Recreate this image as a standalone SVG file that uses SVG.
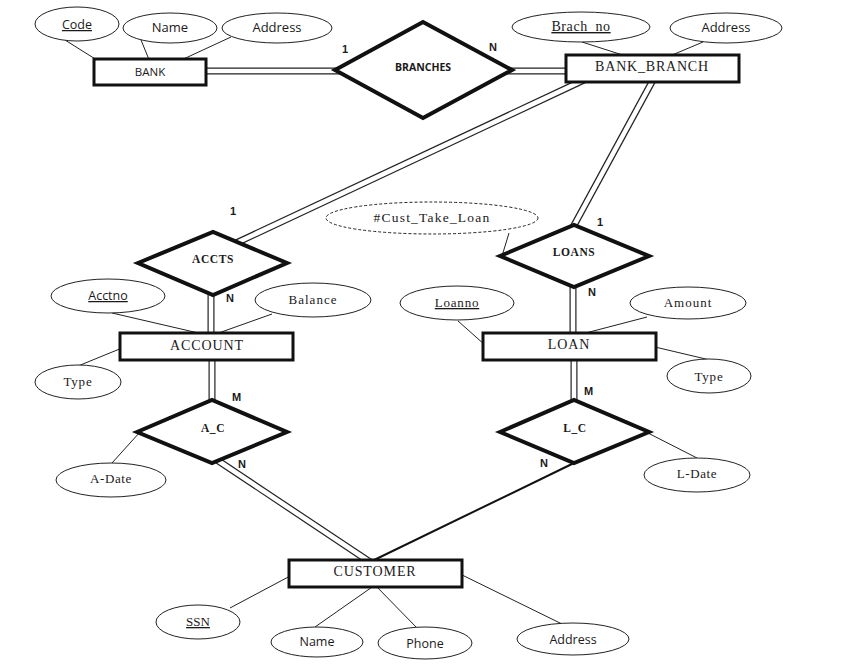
<svg xmlns="http://www.w3.org/2000/svg" width="859" height="668" viewBox="0 0 859 668">
<style>
.ent{fill:#fff;stroke:#111;stroke-width:3}
.rel{fill:#fff;stroke:#111;stroke-width:4;stroke-linejoin:miter}
.att{fill:#fff;stroke:#222;stroke-width:1}
.der{fill:#fff;stroke:#222;stroke-width:1;stroke-dasharray:3,2}
.ln{stroke:#222;stroke-width:1;fill:none}
.d1{stroke:#222;stroke-width:7;fill:none}
.d2{stroke:#fff;stroke-width:4.6;fill:none}
.sg{stroke:#111;stroke-width:2;fill:none}
.sans{font-family:"Open Sans","Liberation Sans",Arial,sans-serif;fill:#1a1a1a;text-anchor:middle}
.serif{font-family:"Liberation Serif","Times New Roman",serif;fill:#1a1a1a;text-anchor:middle}
.card{font-family:"Liberation Sans",Arial,sans-serif;font-weight:bold;font-size:11px;fill:#1a1a1a}
.u{text-decoration:underline}
</style>
<g id="connectors">
<line class="ln" x1="65" y1="40" x2="100" y2="62"/>
<line class="ln" x1="141" y1="40" x2="150" y2="62"/>
<line class="ln" x1="231" y1="37" x2="177" y2="62"/>
<line class="ln" x1="582" y1="42" x2="632" y2="58"/>
<line class="ln" x1="703" y1="42" x2="665" y2="58"/>
<line class="ln" x1="112" y1="313" x2="207" y2="335"/>
<line class="ln" x1="272" y1="314" x2="213" y2="335"/>
<line class="ln" x1="78" y1="366" x2="122" y2="348"/>
<line class="ln" x1="458" y1="321" x2="485" y2="345"/>
<line class="ln" x1="647" y1="317" x2="578" y2="335"/>
<line class="ln" x1="655" y1="347" x2="710" y2="360"/>
<line class="ln" x1="509" y1="233" x2="502" y2="256"/>
<line class="ln" x1="112" y1="463" x2="140" y2="432"/>
<line class="ln" x1="646" y1="432" x2="697" y2="458"/>
<line class="ln" x1="230" y1="608" x2="292" y2="575"/>
<line class="ln" x1="315" y1="627" x2="375" y2="585"/>
<line class="ln" x1="417" y1="628" x2="375" y2="585"/>
<line class="ln" x1="458" y1="573" x2="562" y2="624"/>
<g id="double-lines">
<line class="d1" x1="200" y1="71" x2="345" y2="71"/>
<line class="d1" x1="500" y1="71" x2="570" y2="71"/>
<line class="d1" x1="584" y1="80" x2="234" y2="244"/>
<line class="d1" x1="653" y1="80" x2="572" y2="229"/>
<line class="d1" x1="211" y1="290" x2="211" y2="338"/>
<line class="d1" x1="212" y1="358" x2="212" y2="405"/>
<line class="d1" x1="573" y1="282" x2="573" y2="338"/>
<line class="d1" x1="574" y1="358" x2="574" y2="405"/>
<line class="d1" x1="214" y1="458" x2="370" y2="562"/>
<line class="d2" x1="200" y1="71" x2="345" y2="71"/>
<line class="d2" x1="500" y1="71" x2="570" y2="71"/>
<line class="d2" x1="584" y1="80" x2="234" y2="244"/>
<line class="d2" x1="653" y1="80" x2="572" y2="229"/>
<line class="d2" x1="211" y1="290" x2="211" y2="338"/>
<line class="d2" x1="212" y1="358" x2="212" y2="405"/>
<line class="d2" x1="573" y1="282" x2="573" y2="338"/>
<line class="d2" x1="574" y1="358" x2="574" y2="405"/>
<line class="d2" x1="214" y1="458" x2="370" y2="562"/>
</g>
<line class="sg" x1="574" y1="463" x2="370" y2="562"/>
</g>
<g id="BANK"><rect class="ent" x="94" y="59" width="112" height="26"/><text class="sans" x="150" y="76" font-size="11.5">BANK</text></g>
<g id="BANK-Code"><ellipse class="att" cx="77" cy="24" rx="42" ry="17"/><text class="sans u" x="77" y="29" font-size="12.5">Code</text></g>
<g id="BANK-Name"><ellipse class="att" cx="170" cy="28" rx="47" ry="15"/><text class="sans" x="170" y="32" font-size="13">Name</text></g>
<g id="BANK-Address"><ellipse class="att" cx="277" cy="28" rx="55" ry="15"/><text class="sans" x="277" y="32" font-size="13">Address</text></g>
<g id="BRANCHES"><polygon class="rel" points="335,70 423,22 512,70 423,118"/><text class="sans" x="423" y="71" font-size="10.5" font-weight="bold">BRANCHES</text></g>
<g id="BANK_BRANCH"><rect class="ent" x="566" y="55" width="173" height="27"/><text class="serif" x="652" y="71" font-size="14" letter-spacing="0.8">BANK_BRANCH</text></g>
<g id="BB-Brach_no"><ellipse class="att" cx="581" cy="27" rx="69" ry="15"/><text class="serif u" x="581" y="31" font-size="14" letter-spacing="0.6">Brach_no</text></g>
<g id="BB-Address"><ellipse class="att" cx="726" cy="28" rx="56" ry="15"/><text class="sans" x="726" y="32" font-size="13">Address</text></g>
<g id="ACCTS"><polygon class="rel" points="138,263 213,232 287,263 213,295"/><text class="serif" x="213" y="263" font-size="11.5" font-weight="bold" letter-spacing="0.6">ACCTS</text></g>
<g id="ACCOUNT"><rect class="ent" x="120" y="333" width="173" height="27"/><text class="serif" x="207" y="350" font-size="14" letter-spacing="0.9">ACCOUNT</text></g>
<g id="ACCOUNT-Acctno"><ellipse class="att" cx="108" cy="296" rx="57" ry="17"/><text class="sans u" x="108" y="300" font-size="12.5">Acctno</text></g>
<g id="ACCOUNT-Balance"><ellipse class="att" cx="313" cy="300" rx="58" ry="17"/><text class="serif" x="313" y="304" font-size="13" letter-spacing="1">Balance</text></g>
<g id="ACCOUNT-Type"><ellipse class="att" cx="78" cy="382" rx="43" ry="17"/><text class="serif" x="78" y="386" font-size="13" letter-spacing="0.8">Type</text></g>
<g id="Cust_Take_Loan"><ellipse class="der" cx="432" cy="218" rx="106" ry="16"/><text class="serif" x="432" y="222" font-size="13.5" letter-spacing="1.2">#Cust_Take_Loan</text></g>
<g id="LOANS"><polygon class="rel" points="500,256 574,225 649,256 574,287"/><text class="serif" x="574" y="256" font-size="11.5" font-weight="bold" letter-spacing="0.6">LOANS</text></g>
<g id="LOAN"><rect class="ent" x="483" y="333" width="173" height="27"/><text class="serif" x="569" y="349" font-size="14" letter-spacing="0.9">LOAN</text></g>
<g id="LOAN-Loanno"><ellipse class="att" cx="457" cy="303" rx="57" ry="17"/><text class="serif u" x="457" y="307" font-size="13" letter-spacing="0.8">Loanno</text></g>
<g id="LOAN-Amount"><ellipse class="att" cx="688" cy="303" rx="58" ry="16"/><text class="serif" x="688" y="307" font-size="13" letter-spacing="1">Amount</text></g>
<g id="LOAN-Type"><ellipse class="att" cx="709" cy="376" rx="42" ry="17"/><text class="serif" x="709" y="381" font-size="13" letter-spacing="0.8">Type</text></g>
<g id="A_C"><polygon class="rel" points="137,432 212,400 287,432 212,463"/><text class="serif" x="213" y="432" font-size="11.5" font-weight="bold" letter-spacing="0.6">A_C</text></g>
<g id="A_C-A-Date"><ellipse class="att" cx="111" cy="480" rx="55" ry="17"/><text class="serif" x="111" y="483" font-size="13" letter-spacing="0.6">A-Date</text></g>
<g id="L_C"><polygon class="rel" points="500,432 574,400 649,432 574,463"/><text class="serif" x="575" y="432" font-size="11.5" font-weight="bold" letter-spacing="0.6">L_C</text></g>
<g id="L_C-L-Date"><ellipse class="att" cx="697" cy="475" rx="53" ry="17"/><text class="serif" x="697" y="478" font-size="13" letter-spacing="0.6">L-Date</text></g>
<g id="CUSTOMER"><rect class="ent" x="289" y="560" width="173" height="27"/><text class="serif" x="375" y="576" font-size="14" letter-spacing="0.9">CUSTOMER</text></g>
<g id="CUSTOMER-SSN"><ellipse class="att" cx="198" cy="622" rx="42" ry="17"/><text class="serif u" x="198" y="626" font-size="13">SSN</text></g>
<g id="CUSTOMER-Name"><ellipse class="att" cx="317" cy="642" rx="46" ry="15"/><text class="sans" x="317" y="646" font-size="12.5">Name</text></g>
<g id="CUSTOMER-Phone"><ellipse class="att" cx="425" cy="643" rx="47" ry="16"/><text class="sans" x="425" y="648" font-size="12.5">Phone</text></g>
<g id="CUSTOMER-Address"><ellipse class="att" cx="573" cy="639" rx="56" ry="16"/><text class="sans" x="573" y="644" font-size="12.5">Address</text></g>
<g id="cardinalities">
<text class="card" x="342" y="53">1</text>
<text class="card" x="489" y="51">N</text>
<text class="card" x="230" y="215">1</text>
<text class="card" x="226" y="302">N</text>
<text class="card" x="232" y="401">M</text>
<text class="card" x="238" y="468">N</text>
<text class="card" x="597" y="226">1</text>
<text class="card" x="588" y="296">N</text>
<text class="card" x="584" y="395">M</text>
<text class="card" x="540" y="467">N</text>
</g>
</svg>
